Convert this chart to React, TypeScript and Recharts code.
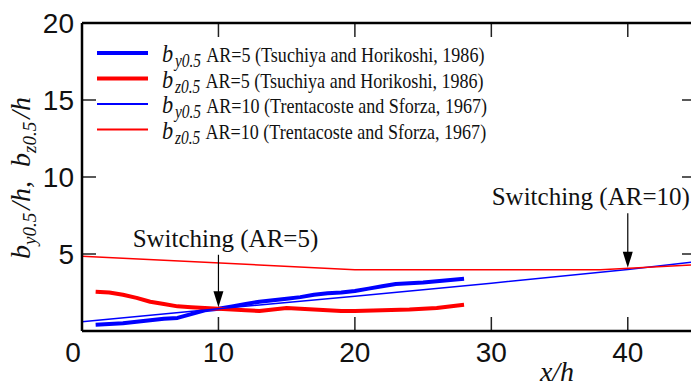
import React from "react";
import { Legend, Line, LineChart, ReferenceLine, XAxis, YAxis } from "recharts";

// half-widths, AR=5 measurements
const byAr5 = [
  { x: 1, v: 0.4 }, { x: 2, v: 0.45 }, { x: 3, v: 0.5 }, { x: 4, v: 0.6 }, { x: 5, v: 0.7 },
  { x: 6, v: 0.8 }, { x: 7, v: 0.85 }, { x: 8, v: 1.1 }, { x: 9, v: 1.35 }, { x: 10, v: 1.45 },
  { x: 11, v: 1.6 }, { x: 12, v: 1.75 }, { x: 13, v: 1.9 }, { x: 14, v: 2.0 }, { x: 15, v: 2.1 },
  { x: 16, v: 2.2 }, { x: 17, v: 2.35 }, { x: 18, v: 2.45 }, { x: 19, v: 2.5 }, { x: 20, v: 2.6 },
  { x: 21, v: 2.75 }, { x: 22, v: 2.9 }, { x: 23, v: 3.05 }, { x: 25, v: 3.15 }, { x: 28, v: 3.4 },
];
const bzAr5 = [
  { x: 1, v: 2.55 }, { x: 2, v: 2.5 }, { x: 3, v: 2.35 }, { x: 4, v: 2.15 }, { x: 5, v: 1.9 },
  { x: 6, v: 1.75 }, { x: 7, v: 1.6 }, { x: 8, v: 1.55 }, { x: 9, v: 1.5 }, { x: 10, v: 1.45 },
  { x: 11, v: 1.4 }, { x: 12, v: 1.35 }, { x: 13, v: 1.3 }, { x: 14, v: 1.4 }, { x: 15, v: 1.5 },
  { x: 16, v: 1.45 }, { x: 17, v: 1.4 }, { x: 18, v: 1.35 }, { x: 19, v: 1.3 }, { x: 20, v: 1.3 },
  { x: 22, v: 1.35 }, { x: 24, v: 1.4 }, { x: 26, v: 1.5 }, { x: 28, v: 1.7 },
];
// AR=10 curves
const byAr10 = [
  { x: 0, v: 0.6 }, { x: 10, v: 1.45 }, { x: 20, v: 2.25 }, { x: 30, v: 3.1 }, { x: 40, v: 4.0 }, { x: 45, v: 4.5 },
];
const bzAr10 = [
  { x: 0, v: 4.85 }, { x: 20, v: 3.98 }, { x: 38, v: 3.98 }, { x: 45, v: 4.3 },
];

const xTicks = [0, 10, 20, 30, 40];
const yTicks = [0, 5, 10, 15, 20];

const series = [
  { key: "byAr5", data: byAr5, sub: "y0.5", text: "AR=5 (Tsuchiya and Horikoshi, 1986)", color: "#0000ff", width: 4 },
  { key: "bzAr5", data: bzAr5, sub: "z0.5", text: "AR=5 (Tsuchiya and Horikoshi, 1986)", color: "#ff0000", width: 4 },
  { key: "byAr10", data: byAr10, sub: "y0.5", text: "AR=10 (Trentacoste and Sforza, 1967)", color: "#0000ff", width: 1.5 },
  { key: "bzAr10", data: bzAr10, sub: "z0.5", text: "AR=10 (Trentacoste and Sforza, 1967)", color: "#ff0000", width: 1.5 },
];

const switches = [
  { x: 10, top: 4.95, tip: 1.55, text: "Switching (AR=5)" },
  { x: 40, top: 7.65, tip: 4.1, text: "Switching (AR=10)" },
];

const serif = "'Liberation Serif', 'Times New Roman', serif";
const sans = "'Liberation Sans', Arial, sans-serif";
const TICK = 14;

const BottomTick = (props: any) => {
  const { x, y, payload } = props;
  const v = payload.value;
  return (
    <text x={v === 0 ? x - 9 : x} y={y + 31} textAnchor="middle" fontFamily={sans} fontSize={28} fill="#111">
      {v}
    </text>
  );
};

const LeftTick = (props: any) => {
  const { x, y, payload } = props;
  const v = payload.value;
  if (v === 0) return <g />;
  return (
    <text x={x - 8} y={y + 10} textAnchor="end" fontFamily={sans} fontSize={28} fill="#111">
      {v}
    </text>
  );
};

// inward tick marks on both ends of a full-span reference line
const vTickShape = (p: any) => {
  const { x1 } = p;
  const top = Math.min(p.y1, p.y2);
  const bottom = Math.max(p.y1, p.y2);
  return (
    <g stroke="#222" strokeWidth={1.5}>
      <line x1={x1} x2={x1} y1={top} y2={top + TICK} />
      <line x1={x1} x2={x1} y1={bottom} y2={bottom - TICK} />
    </g>
  );
};

const hTickShape = (p: any) => {
  const { y1 } = p;
  const left = Math.min(p.x1, p.x2);
  const right = Math.max(p.x1, p.x2);
  return (
    <g stroke="#222" strokeWidth={1.5}>
      <line x1={left} x2={left + TICK} y1={y1} y2={y1} />
      <line x1={right} x2={right - TICK} y1={y1} y2={y1} />
    </g>
  );
};

const arrowShape = (text: string, dx: number) => (p: any) => {
  const { x1, y1, x2, y2 } = p;
  const top = Math.min(y1, y2);
  const tip = Math.max(y1, y2);
  return (
    <g>
      <line x1={x1} y1={top} x2={x2} y2={tip - 14} stroke="#000" strokeWidth={1.2} />
      <polygon points={`${x2 - 5},${tip - 16} ${x2 + 5},${tip - 16} ${x2},${tip}`} fill="#000" />
      <text x={x1 + dx} y={top - 8} textAnchor="middle" fontFamily={serif} fontSize={25} fill="#111">
        {text}
      </text>
    </g>
  );
};

const LegendBox = () => (
  <svg width={520} height={150} style={{ display: "block" }}>
    {series.map((s, i) => {
      const y = 53 + i * 25.5;
      return (
        <g key={s.key}>
          <line x1={97} x2={148} y1={y} y2={y} stroke={s.color} strokeWidth={s.width === 4 ? 4 : 2} />
          <text transform={`translate(162 ${y + 9}) scale(0.86 1)`} fontFamily={serif} fill="#111">
            <tspan fontSize={26} fontStyle="italic">b</tspan>
            <tspan fontSize={18} fontStyle="italic" dy={5} dx={2}>{s.sub}</tspan>
            <tspan fontSize={21} dy={-5} dx={6}>{s.text}</tspan>
          </text>
        </g>
      );
    })}
  </svg>
);

const YLabel = () => {
  const cx = 30;
  const cy = 178;
  return (
    <text
      x={cx}
      y={cy}
      transform={`rotate(-90 ${cx} ${cy})`}
      textAnchor="middle"
      fontFamily={serif}
      fontStyle="italic"
      fill="#111"
    >
      <tspan fontSize={28}>b</tspan>
      <tspan fontSize={19} dy={6}>y0.5</tspan>
      <tspan fontSize={28} dy={-6} dx={3}>/h,</tspan>
      <tspan fontSize={28} dx={14}>b</tspan>
      <tspan fontSize={19} dy={6}>z0.5</tspan>
      <tspan fontSize={28} dy={-6} dx={3}>/h</tspan>
    </text>
  );
};

const XLabel = () => (
  <text x={557} y={381} textAnchor="middle" fontFamily={serif} fontStyle="italic" fontSize={28} fill="#111">
    x/h
  </text>
);

export default function App() {
  const axisLine = { stroke: "#000", strokeWidth: 2.5 };
  return (
    <div style={{ position: "fixed", left: 0, top: 0, width: 691, height: 387, overflow: "hidden", background: "#fff" }}>
      <LineChart width={700} height={387} margin={{ top: 22, right: 3, bottom: 55, left: 81 }}>
        <XAxis
          xAxisId="bottom"
          type="number"
          dataKey="x"
          domain={[0, 45]}
          ticks={xTicks}
          interval={0}
          height={1}
          tickSize={0}
          tickMargin={0}
          tickLine={false}
          axisLine={axisLine}
          tick={<BottomTick />}
          label={<XLabel />}
        />
        <XAxis
          xAxisId="top"
          orientation="top"
          type="number"
          domain={[0, 45]}
          height={1}
          tick={false}
          tickLine={false}
          axisLine={axisLine}
        />
        <YAxis
          yAxisId="left"
          type="number"
          domain={[0, 20]}
          ticks={yTicks}
          interval={0}
          width={1}
          tickSize={0}
          tickMargin={0}
          tickLine={false}
          axisLine={axisLine}
          tick={<LeftTick />}
          label={<YLabel />}
        />
        <YAxis
          yAxisId="right"
          orientation="right"
          type="number"
          domain={[0, 20]}
          width={1}
          tick={false}
          tickLine={false}
          axisLine={axisLine}
        />
        <Legend
          layout="horizontal"
          verticalAlign="middle"
          align="center"
          content={<LegendBox />}
          wrapperStyle={{ position: "absolute", left: 0, top: 0, width: 520, height: 150, pointerEvents: "none" }}
        />
        {xTicks
          .filter((v) => v !== 0)
          .map((v) => (
            <ReferenceLine key={`xt${v}`} xAxisId="bottom" yAxisId="left" x={v} shape={vTickShape} />
          ))}
        {yTicks
          .filter((v) => v !== 0 && v !== 20)
          .map((v) => (
            <ReferenceLine key={`yt${v}`} xAxisId="bottom" yAxisId="left" y={v} shape={hTickShape} />
          ))}
        {series.map((s) => (
          <Line
            key={s.key}
            xAxisId="bottom"
            yAxisId="left"
            data={s.data}
            dataKey="v"
            type="linear"
            stroke={s.color}
            strokeWidth={s.width}
            strokeLinejoin="round"
            dot={false}
            activeDot={false}
            legendType="none"
            isAnimationActive={false}
          />
        ))}
        {switches.map((a, i) => (
          <ReferenceLine
            key={a.text}
            xAxisId="bottom"
            yAxisId="left"
            segment={[{ x: a.x, y: a.top }, { x: a.x, y: a.tip }]}
            shape={arrowShape(a.text, i === 0 ? 7 : -37)}
          />
        ))}
      </LineChart>
    </div>
  );
}
